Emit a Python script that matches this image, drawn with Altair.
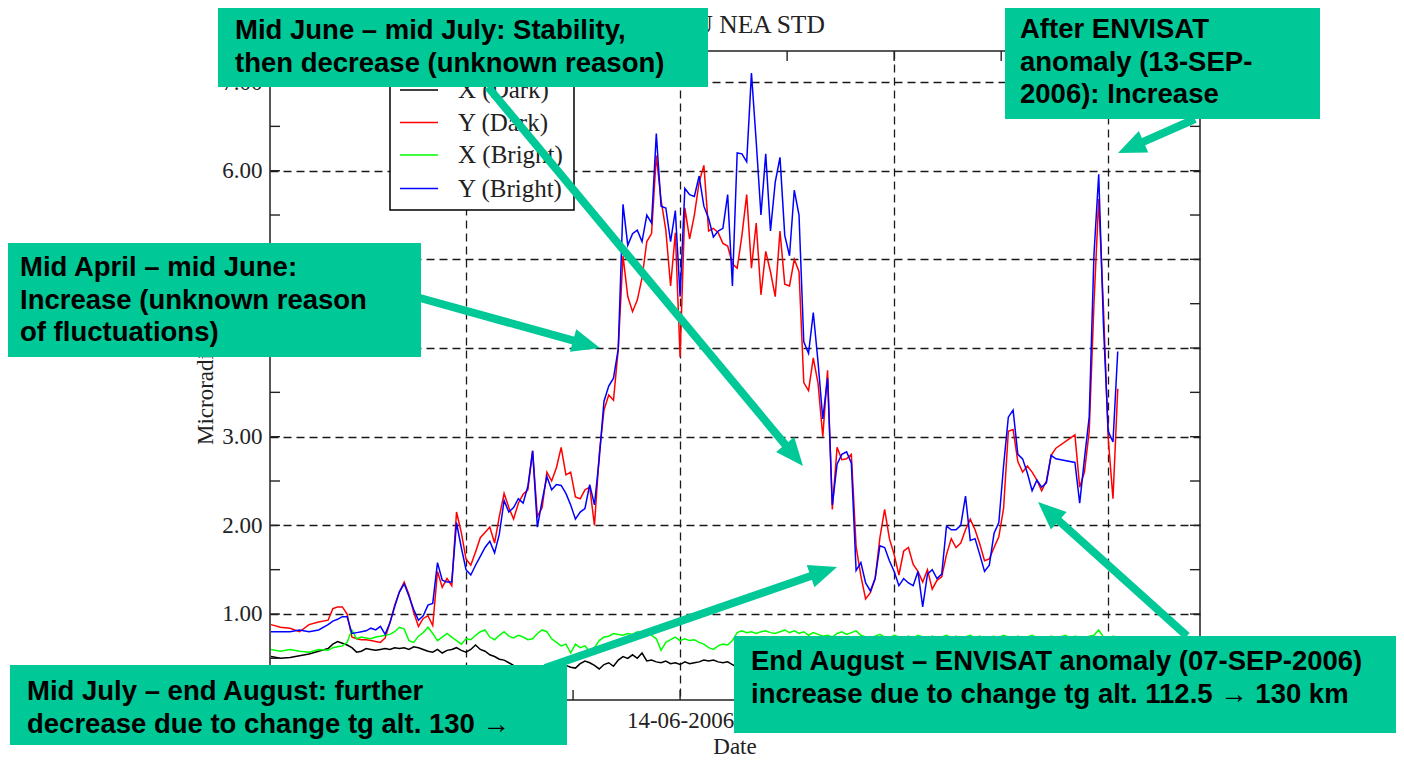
import math
import altair as alt
import pandas as pd

# ---------------- data ----------------
series_names = ["X (Dark)", "Y (Dark)", "X (Bright)", "Y (Bright)"]
series_colors = ["#000000", "#ff0000", "#00ff00", "#0000ff"]

start_date = "2006-03-20"
# day offsets from start_date of each sample
day = [0, 2, 4, 6, 8, 10] + list(range(12, 179))

x_dark = [0.52, 0.50, 0.51, 0.53, 0.55, 0.58,
          0.61, 0.66, 0.69, 0.67, 0.65, 0.62, 0.57, 0.58, 0.61, 0.60,
          0.59, 0.60, 0.61, 0.60, 0.62, 0.61, 0.62, 0.60, 0.63, 0.62,
          0.60, 0.58, 0.57, 0.60, 0.56, 0.59, 0.60, 0.62, 0.59, 0.57,
          0.60, 0.65, 0.60, 0.58, 0.54, 0.52, 0.49, 0.48, 0.45, 0.42,
          0.40, 0.38, 0.40, 0.39, 0.38, 0.37, 0.38, 0.39, 0.41, 0.43,
          0.42, 0.40, 0.39, 0.44, 0.47, 0.45, 0.42, 0.38, 0.43, 0.45,
          0.41, 0.48, 0.52, 0.50, 0.54, 0.50, 0.56, 0.47, 0.48, 0.46,
          0.45, 0.47, 0.44, 0.45, 0.43, 0.46, 0.44, 0.45, 0.46, 0.48,
          0.47, 0.48, 0.46, 0.45, 0.46, 0.43, 0.40, 0.38, 0.40, 0.41,
          0.39, 0.40, 0.42, 0.40, 0.41, 0.39, 0.40, 0.42, 0.41, 0.40,
          0.39, 0.40, 0.41, 0.40, 0.39, 0.40, 0.38, 0.37, 0.39, 0.40,
          0.41, 0.40, 0.38, 0.39, 0.40, 0.42, 0.41, 0.39, 0.40, 0.41,
          0.40, 0.39, 0.38, 0.40, 0.41, 0.40, 0.42, 0.41, 0.39, 0.40,
          0.41, 0.40, 0.39, 0.38, 0.40, 0.41, 0.42, 0.40, 0.39, 0.40,
          0.41, 0.40, 0.42, 0.41, 0.40, 0.39, 0.40, 0.41, 0.42, 0.40,
          0.39, 0.40, 0.41, 0.40, 0.39, 0.40, 0.41, 0.40, 0.42, 0.41,
          0.40, 0.39, 0.41, 0.40, 0.42, 0.41, 0.40]

y_dark = [0.88, 0.85, 0.84, 0.80, 0.88, 0.91,
          0.93, 1.06, 1.08, 1.08, 1.00, 0.74, 0.72, 0.71, 0.71, 0.70,
          0.69, 0.68, 0.73, 0.90, 1.10, 1.25, 1.36, 1.22, 1.02, 0.86,
          0.95, 0.98, 0.87, 1.48, 1.30, 1.40, 1.32, 2.15, 1.92, 1.62,
          1.55, 1.70, 1.86, 1.92, 1.98, 1.80, 2.10, 2.36, 2.20, 2.07,
          2.25, 2.35, 2.40, 2.84, 2.10, 2.20, 2.60, 2.50, 2.65, 2.88,
          2.57, 2.60, 2.32, 2.30, 2.40, 2.43, 2.00, 2.80, 3.30, 3.47,
          3.41, 3.99, 5.04, 4.58, 4.41, 4.54, 4.79, 5.20, 5.29, 6.17,
          5.67, 5.33, 4.70, 5.30, 3.90, 5.58, 5.23, 5.50, 5.87, 6.06,
          5.32, 5.35, 5.30, 5.18, 5.15, 4.95, 4.90, 5.27, 5.73, 4.90,
          5.41, 4.60, 5.09, 4.86, 4.58, 5.32, 4.72, 4.70, 5.00, 4.86,
          3.61, 3.52, 3.89, 3.60, 3.00, 3.75, 2.18, 2.88, 2.74, 2.75,
          2.80, 1.76, 1.43, 1.17, 1.24, 1.40, 1.86, 2.18, 1.85, 1.67,
          1.44, 1.71, 1.75, 1.56, 1.48, 1.36, 1.50, 1.28, 1.38, 1.42,
          1.67, 1.85, 1.75, 1.80, 1.95, 2.07, 1.95, 1.79, 1.60, 1.62,
          1.75, 1.87, 2.19, 3.06, 3.08, 2.72, 2.60, 2.67, 2.60, 2.51,
          2.39, 2.50, 2.79, 2.87, None, None, None, 3.02, 2.43, 2.60,
          3.06, 4.50, 5.68, 4.45, 2.98, 2.30, 3.54]

x_bright = [0.60, 0.58, 0.60, 0.58, 0.57, 0.60,
            0.59, 0.62, 0.63, 0.64, 0.68, 0.82, 0.72, 0.74, 0.73, 0.72,
            0.74, 0.75, 0.76, 0.77, 0.80, 0.85, 0.83, 0.70, 0.68, 0.75,
            0.79, 0.85, 0.78, 0.70, 0.74, 0.78, 0.74, 0.70, 0.66, 0.72,
            0.71, 0.76, 0.80, 0.82, 0.74, 0.71, 0.76, 0.80, 0.75, 0.73,
            0.76, 0.74, 0.71, 0.72, 0.78, 0.82, 0.80, 0.72, 0.68, 0.64,
            0.66, 0.56, 0.66, 0.62, 0.64, 0.58, 0.62, 0.70, 0.74, 0.75,
            0.78, 0.77, 0.76, 0.78, 0.77, 0.80, 0.79, 0.82, 0.76, 0.72,
            0.59, 0.68, 0.71, 0.74, 0.70, 0.72, 0.70, 0.71, 0.68, 0.66,
            0.62, 0.60, 0.64, 0.66, 0.65, 0.70, 0.79, 0.81, 0.79, 0.80,
            0.78, 0.80, 0.81, 0.79, 0.78, 0.80, 0.82, 0.79, 0.81, 0.78,
            0.80, 0.76, 0.79, 0.77, 0.75, 0.76, 0.74, 0.78, 0.80, 0.77,
            0.79, 0.81, 0.76, 0.74, 0.72, 0.75, 0.77, 0.74, 0.73, 0.76,
            0.74, 0.72, 0.75, 0.73, 0.76, 0.74, 0.72, 0.75, 0.73, 0.74,
            0.76, 0.73, 0.75, 0.72, 0.74, 0.76, 0.73, 0.75, 0.72, 0.74,
            0.75, 0.73, 0.76, 0.74, 0.72, 0.75, 0.73, 0.74, 0.76, 0.73,
            0.74, 0.72, 0.75, 0.73, 0.74, 0.76, 0.73, 0.75, 0.74, 0.72,
            0.75, 0.76, 0.82, 0.74, 0.73, 0.75, 0.74]

y_bright = [0.80, 0.80, 0.80, 0.82, 0.80, 0.82,
            0.88, 0.92, 0.94, 0.97, 0.97, 0.78, 0.79, 0.80, 0.81, 0.84,
            0.82, 0.86, 0.77, 0.90, 1.08, 1.25, 1.34, 1.20, 1.05, 0.93,
            0.98, 1.10, 1.12, 1.58, 1.38, 1.36, 1.36, 2.03, 1.75, 1.50,
            1.44, 1.55, 1.65, 1.75, 1.82, 1.69, 1.90, 2.28, 2.15, 2.20,
            2.30, 2.25, 2.44, 2.84, 1.98, 2.28, 2.55, 2.40, 2.46, 2.45,
            2.36, 2.23, 2.07, 2.15, 2.19, 2.46, 2.23, 2.75, 3.40, 3.57,
            3.66, 3.99, 5.62, 5.16, 5.29, 5.33, 5.20, 5.50, 5.41, 6.42,
            5.60, 5.58, 5.20, 5.55, 4.58, 5.80, 5.73, 5.71, 5.94, 5.60,
            5.46, 5.25, 5.32, 5.35, 5.73, 4.70, 6.20, 6.19, 6.10, 7.10,
            6.33, 5.50, 6.19, 5.32, 5.87, 6.15, 5.27, 5.04, 5.78, 5.50,
            4.07, 3.94, 4.40, 3.84, 3.20, 3.66, 2.23, 2.69, 2.80, 2.83,
            2.70, 1.49, 1.58, 1.35, 1.26, 1.40, 1.77, 1.75, 1.60, 1.48,
            1.32, 1.40, 1.35, 1.32, 1.48, 1.08, 1.45, 1.50, 1.40, 1.45,
            1.99, 1.95, 1.95, 2.00, 2.33, 1.83, 1.85, 1.67, 1.48, 1.55,
            1.91, 2.03, 2.67, 3.22, 3.30, 2.80, 2.75, 2.59, 2.39, 2.51,
            2.43, 2.48, 2.79, 2.75, None, None, None, 2.71, 2.25, 2.75,
            3.22, 5.05, 5.96, 4.25, 3.06, 2.94, 3.96]

y_tick_values = [0.5, 1.0, 1.5, 2.0, 2.5, 3.0, 3.5, 4.0, 4.5, 5.0, 5.5, 6.0, 6.5, 7.0]
y_grid_values = [0, 1, 2, 3, 4, 5, 6, 7]
y_shown_labels = [1, 2, 3, 6, 7]          # the others sit under the note boxes
x_tick_dates = ["2006-04-07T12:00:00Z", "2006-04-30T00:00:00Z", "2006-05-22T12:00:00Z",
                "2006-06-14T00:00:00Z", "2006-07-06T12:00:00Z", "2006-07-29T00:00:00Z",
                "2006-08-20T12:00:00Z", "2006-09-12T00:00:00Z"]
x_shown_label = "14-06-2006"

title_text = "SATU NEA STD"
y_title_text = "Microradians"
x_title_text = "Date"

notes = [
    "Mid June – mid July: Stability,\nthen decrease (unknown reason)",
    "After ENVISAT\nanomaly (13-SEP-\n2006): Increase",
    "Mid April – mid June:\nIncrease (unknown reason\nof fluctuations)",
    "Mid July – end August: further\ndecrease due to change tg alt. 130 →",
    "End August – ENVISAT anomaly (07-SEP-2006)\nincrease due to change tg alt. 112.5 → 130 km",
]

# ---------------- layout (page pixels) ----------------
OX, OY = 270, 51          # plot origin on the page
W, H = 930, 649
TEAL = "#00C896"
INK = "#222222"
SERIF = "Liberation Serif"
SANS = "Liberation Sans"

note_boxes = [(218, 7, 708, 87), (1005, 6, 1320, 119), (7, 243, 421, 357),
              (10, 665, 567, 745), (734, 636, 1397, 733)]
note_text_pos = [(235, 39), (1020, 38), (20, 276), (27, 700), (751, 670)]
arrow_pos = [(420, 298, 600, 348), (488, 87, 803, 466), (545, 668, 837, 567),
             (1187, 636, 1038, 502), (1195, 119, 1118, 153)]

# ---------------- tables ----------------
for s in (x_dark, y_dark, x_bright, y_bright):
    assert len(s) == len(day), (len(s), len(day))

base = pd.Timestamp(start_date)
date_str = [(base + pd.Timedelta(days=d)).strftime("%Y-%m-%dT%H:%M:%SZ") for d in day]
rows = []
for name, vals in zip(series_names, (x_dark, y_dark, x_bright, y_bright)):
    for dstr, v in zip(date_str, vals):
        if v is not None:
            rows.append({"date": dstr, "value": v, "series": name})
df = pd.DataFrame(rows)

xscale = alt.Scale(type="utc", nice=False,
                   domain=[alt.DateTime(year=2006, month=3, date=19, hours=19, utc=True),
                           alt.DateTime(year=2006, month=10, date=1, hours=7, utc=True)])
yscale = alt.Scale(domain=[0.03, 7.35], nice=False, zero=False)
cscale = alt.Scale(domain=series_names, range=series_colors)

grid_style = dict(grid=True, gridDash=[8, 5], gridColor="#1a1a1a", gridWidth=1.3,
                  ticks=False, domain=False, labelFont=SERIF, labelFontSize=23,
                  labelColor=INK, labelOverlap=False, title=None)
xaxis = alt.Axis(values=[alt.DateTime(year=2006, month=4, date=30, utc=True),
                         alt.DateTime(year=2006, month=6, date=14, utc=True),
                         alt.DateTime(year=2006, month=7, date=29, utc=True),
                         alt.DateTime(year=2006, month=9, date=12, utc=True)],
                 format="%d-%m-%Y", labelPadding=9, labelFlush=False,
                 labelExpr=f"datum.label == '{x_shown_label}' ? datum.label : ''",
                 **grid_style)
yaxis = alt.Axis(values=y_grid_values, format=".2f", labelPadding=8,
                 labelExpr=f"indexof({y_shown_labels}, datum.value) >= 0 ? datum.label : ''",
                 **grid_style)

lines = alt.Chart(df).mark_line(strokeWidth=1.5).encode(
    x=alt.X("date:T", scale=xscale, axis=xaxis),
    y=alt.Y("value:Q", scale=yscale, axis=yaxis),
    color=alt.Color("series:N", scale=cscale, legend=None),
)

# inward ticks on all four sides (share the scales and axes of the lines)
ytk = pd.DataFrame({"value": y_tick_values})
xtk = pd.DataFrame({"date": x_tick_dates})
tick_style = dict(color=INK, strokeWidth=1.4)
yt_left = alt.Chart(ytk).mark_rule(**tick_style).encode(
    y=alt.Y("value:Q", scale=yscale, axis=yaxis), x=alt.value(0), x2=alt.value(10))
yt_right = alt.Chart(ytk).mark_rule(**tick_style).encode(
    y=alt.Y("value:Q", scale=yscale, axis=yaxis), x=alt.value(W), x2=alt.value(W - 10))
xt_bottom = alt.Chart(xtk).mark_rule(**tick_style).encode(
    x=alt.X("date:T", scale=xscale, axis=xaxis), y=alt.value(H), y2=alt.value(H - 10))
xt_top = alt.Chart(xtk).mark_rule(**tick_style).encode(
    x=alt.X("date:T", scale=xscale, axis=xaxis), y=alt.value(0), y2=alt.value(10))

# legend (drawn as layers so the annotation boxes can sit over it)
leg_box = pd.DataFrame([{"x0": 390 - OX, "y0": 66 - OY, "x1": 574 - OX, "y1": 210 - OY}])
leg_rect = alt.Chart(leg_box).mark_rect(fill="white", stroke="black", strokeWidth=1.5).encode(
    x=alt.X("x0:Q", scale=None), x2="x1", y=alt.Y("y0:Q", scale=None), y2="y1")
leg_rows = pd.DataFrame({"series": series_names,
                         "ly": [y - OY for y in (90, 122.5, 155, 188.5)],
                         "lx0": [400 - OX] * 4, "lx1": [438 - OX] * 4,
                         "tx": [458 - OX] * 4})
leg_lines = alt.Chart(leg_rows).mark_rule(strokeWidth=1.5).encode(
    x=alt.X("lx0:Q", scale=None), x2="lx1", y=alt.Y("ly:Q", scale=None),
    color=alt.Color("series:N", scale=cscale, legend=None))
leg_text = alt.Chart(leg_rows).mark_text(align="left", baseline="middle", font=SERIF,
                                         fontSize=25, color=INK).encode(
    x=alt.X("tx:Q", scale=None), y=alt.Y("ly:Q", scale=None), text="series:N")

# titles as text marks
def label_layer(txt, px, py, **kw):
    d = pd.DataFrame([{"x": px - OX, "y": py - OY, "t": txt}])
    return alt.Chart(d).mark_text(font=SERIF, color=INK, **kw).encode(
        x=alt.X("x:Q", scale=None), y=alt.Y("y:Q", scale=None), text="t:N")

title_l = label_layer(title_text, 737, 33, fontSize=25.5, align="center", baseline="alphabetic")
ytitle_l = label_layer(y_title_text, 206, 445, fontSize=23, align="left", baseline="middle", angle=270)
xtitle_l = label_layer(x_title_text, 735, 754, fontSize=23, align="center", baseline="alphabetic")

# arrows
ar = []
for (x0, y0, x1, y1) in arrow_pos:
    dx, dy = x1 - x0, y1 - y0
    L = math.hypot(dx, dy)
    ux, uy = dx / L, dy / L
    k = 14.7
    ar.append({"x0": x0 - OX, "y0": y0 - OY,
               "x1": x1 - 20 * ux - OX, "y1": y1 - 20 * uy - OY,
               "hx": x1 - k * ux - OX, "hy": y1 - k * uy - OY,
               "ang": math.degrees(math.atan2(ux, -uy)) % 360})
ar = pd.DataFrame(ar)
arrow_shafts = alt.Chart(ar).mark_rule(color=TEAL, strokeWidth=8).encode(
    x=alt.X("x0:Q", scale=None), y=alt.Y("y0:Q", scale=None), x2="x1", y2="y1")
arrow_heads = alt.Chart(ar).mark_point(filled=True, opacity=1, color=TEAL,
                                       shape="M0,-1L0.8,0.9L-0.8,0.9Z", size=864).encode(
    x=alt.X("hx:Q", scale=None), y=alt.Y("hy:Q", scale=None),
    angle=alt.Angle("ang:Q", scale=None))

# annotation boxes
bx = pd.DataFrame([{"x0": a - OX, "y0": b - OY, "x1": c - OX, "y1": d - OY}
                   for (a, b, c, d) in note_boxes])
boxes = alt.Chart(bx).mark_rect(color=TEAL, opacity=1).encode(
    x=alt.X("x0:Q", scale=None), x2="x1", y=alt.Y("y0:Q", scale=None), y2="y1")
nt = pd.DataFrame([{"x": px - OX, "y": py - OY, "t": t}
                   for (px, py), t in zip(note_text_pos, notes)])
note_text = alt.Chart(nt).mark_text(align="left", baseline="alphabetic", font=SANS,
                                    fontWeight="bold", fontSize=27.5, lineHeight=32.5,
                                    lineBreak="\n", color="black").encode(
    x=alt.X("x:Q", scale=None), y=alt.Y("y:Q", scale=None), text="t:N")

chart = alt.layer(
    lines, yt_left, yt_right, xt_bottom, xt_top,
    leg_rect, leg_lines, leg_text,
    title_l, ytitle_l, xtitle_l,
    arrow_shafts, arrow_heads, boxes, note_text,
).properties(
    width=W, height=H,
    autosize=alt.AutoSizeParams(type="none"),
    padding={"left": OX - 8, "top": OY - 8, "right": 196, "bottom": 60},
    background="white",
).configure_view(stroke="#222222", strokeWidth=1.5)

chart.save("out.html", embed_options={"renderer": "svg", "actions": False})
